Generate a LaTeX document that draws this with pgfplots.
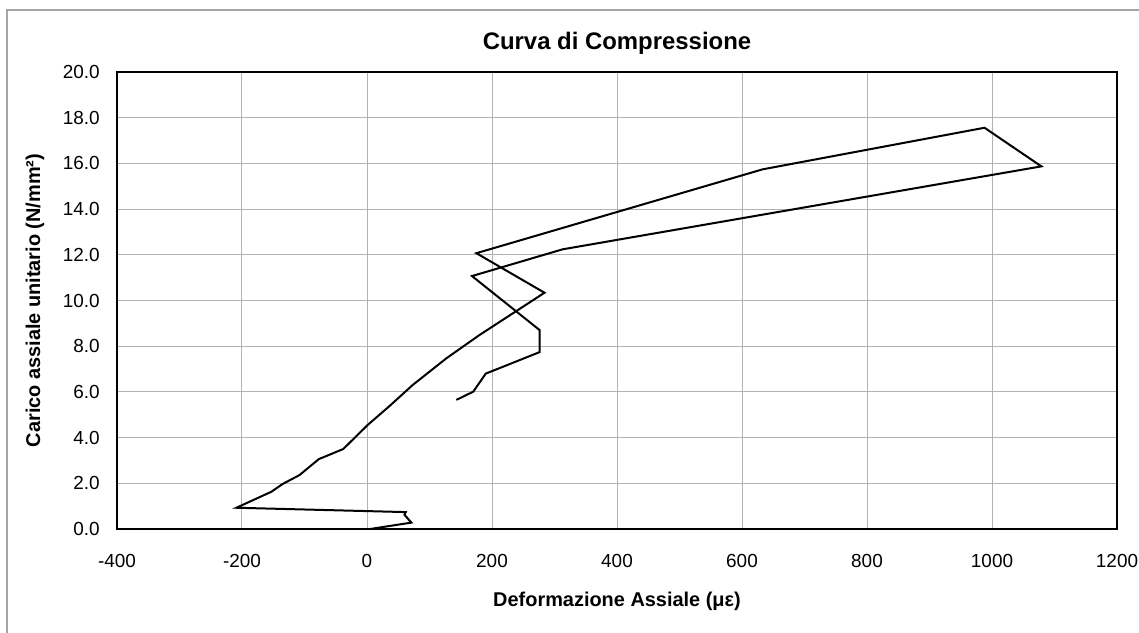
\documentclass[border=0pt]{standalone}
\usepackage{fontspec}
\setmainfont{Liberation Sans}
\usepackage{pgfplots}
\pgfplotsset{compat=1.18}

\begin{document}
\begin{tikzpicture}
\useasboundingbox (-58.5bp,-52bp) rectangle (511bp,264.5bp);
% outer chart frame (left and top edges visible)
\draw[gray!70, line width=0.6bp] (-55bp,-52bp) -- (-55bp,259.5bp) -- (511bp,259.5bp);
\begin{axis}[
  at={(0,0)}, anchor=south west,
  scale only axis,
  width=500bp, height=228.5bp,
  xmin=-400, xmax=1200, ymin=0, ymax=20,
  xtick={-400,-200,...,1200},
  ytick={0,2,...,20},
  major tick length=0pt,
  grid=major,
  major grid style={gray!60, line width=0.5bp},
  axis line style={black, line width=1.2bp},
  /pgf/number format/assume math mode=true,
  xticklabel={\pgfmathprintnumber[fixed,precision=0,1000 sep={}]{\tick}},
  yticklabel={\pgfmathprintnumber[fixed,fixed zerofill,precision=1]{\tick}},
  xticklabel style={font=\fontsize{9.5}{11}\selectfont, anchor=center, inner sep=0pt, yshift=-15.75bp},
  yticklabel style={font=\fontsize{9.5}{11}\selectfont, anchor=east, inner sep=0pt, xshift=-8.5bp},
  title={\textbf{Curva di Compressione}},
  title style={font=\fontsize{12}{14}\selectfont, at={(axis description cs:0.5,1.022)}, anchor=base},
  xlabel={\textbf{Deformazione Assiale (με)}},
  xlabel style={font=\fontsize{10}{12}\selectfont, at={(axis description cs:0.5,-0.1685)}, anchor=base},
  ylabel={\textbf{Carico assiale unitario (N/mm²)}},
  ylabel style={font=\fontsize{10}{12}\selectfont, at={(axis description cs:-0.082,0.5)}, anchor=center, rotate=0},
]
\addplot[black, line width=1bp, no markers, sharp plot] coordinates {
  (5,0.0) (71,0.28) (60,0.62) (62,0.74) (-209,0.93)
  (-153,1.63) (-135,1.97) (-108,2.36) (-77,3.06) (-38,3.5)
  (1,4.55) (36,5.38) (73,6.3) (127,7.47) (180,8.49)
  (284,10.34) (175,12.07) (633,15.74) (988,17.56) (1079,15.87)
  (313,12.24) (168,11.07) (276,8.71) (276,7.74) (190,6.8)
  (170,6.01) (143,5.65)
};
\end{axis}
\end{tikzpicture}
\end{document}
